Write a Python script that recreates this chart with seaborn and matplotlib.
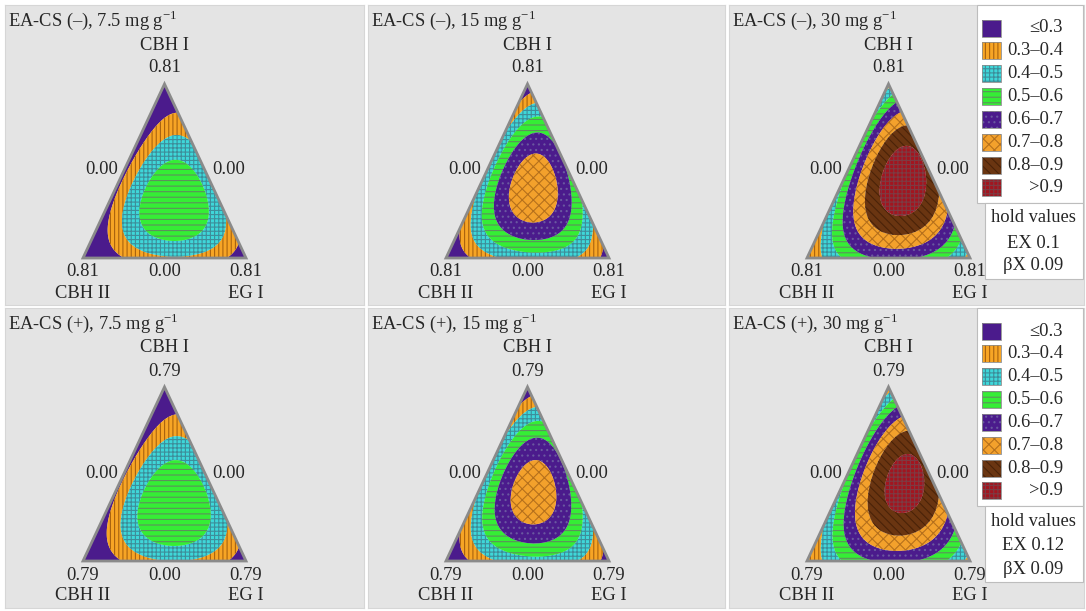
import numpy as np
import matplotlib
matplotlib.use("Agg")
import matplotlib.pyplot as plt
import matplotlib.tri as mtri
from matplotlib.patches import Rectangle, Polygon
import seaborn as sns

# ---- data -------------------------------------------------------------
conditions = ["EA-CS (–)", "EA-CS (+)"]
loadings = ["7.5", "15", "30"]
vertex_max = [0.81, 0.79]          # CBH I / CBH II / EG I range per row
hold_ex = [0.1, 0.12]
hold_bx = [0.09, 0.09]
components = ["CBH I", "CBH II", "EG I"]

# Predicted glucose yield at the {3,3} simplex-lattice points
# order: CBH I, CBH II, EG I vertices; CBH I–CBH II (2/3,1/3),(1/3,2/3);
# CBH I–EG I (2/3,1/3),(1/3,2/3); CBH II–EG I (2/3,1/3),(1/3,2/3); centroid
yield_minus_7_5 = [0.15, 0.10, 0.22, 0.24, 0.26, 0.40, 0.43, 0.34, 0.38, 0.58]
yield_minus_15 = [0.20, 0.18, 0.25, 0.41, 0.38, 0.59, 0.50, 0.40, 0.44, 0.76]
yield_minus_30 = [0.35, 0.30, 0.36, 0.52, 0.45, 0.87, 0.76, 0.57, 0.60, 0.93]
yield_plus_7_5 = [0.15, 0.10, 0.22, 0.25, 0.27, 0.41, 0.44, 0.35, 0.39, 0.59]
yield_plus_15 = [0.20, 0.18, 0.25, 0.41, 0.38, 0.58, 0.50, 0.41, 0.45, 0.75]
yield_plus_30 = [0.33, 0.30, 0.36, 0.51, 0.45, 0.86, 0.76, 0.57, 0.60, 0.905]
panel_yields = [[yield_minus_7_5, yield_minus_15, yield_minus_30],
                [yield_plus_7_5, yield_plus_15, yield_plus_30]]

band_edges = [0.3, 0.4, 0.5, 0.6, 0.7, 0.8, 0.9]
band_labels = ["≤0.3", "0.3–0.4", "0.4–0.5", "0.5–0.6",
               "0.6–0.7", "0.7–0.8", "0.8–0.9", ">0.9"]

# ---- style ------------------------------------------------------------
sns.set_theme(style="white")
plt.rcParams["font.family"] = ["Liberation Serif", "DejaVu Serif"]
plt.rcParams["mathtext.fontset"] = "custom"
plt.rcParams["mathtext.rm"] = "Liberation Serif"
plt.rcParams["hatch.linewidth"] = 0.8

band_colors = sns.color_palette(["#4b1b8c", "#f7a525", "#3fd7d9", "#35ee35",
                                 "#4b1b8c", "#f3a12c", "#6a3511", "#a3151f"])
hatch_colors = ["#4b1b8c", "#a8620f", "#3d8e9a", "#5d8f5d",
                "#6a58a0", "#b5701c", "#4a2308", "#7c3c44"]
hatches = ["", "||||", "++++", "---", "...", "xxx", "\\\\\\\\", "++++"]

FONT = 13.3
PANEL_BG = "#e4e4e4"

# panel boxes in figure pixels (left, top, right, bottom)
col_x = [(5, 364), (368, 725), (729, 1084)]
row_y = [(5, 305), (308, 608)]
FIG_W, FIG_H = 1086, 611

# triangle corners inside each panel (panel pixels, y downward)
APEX = np.array([159.5, 79.0])
LEFT = np.array([78.0, 253.0])
RIGHT = np.array([241.0, 253.0])


def hatched(artist, k):
    """Give a filled artist the hatch colour of band k without stroking edges."""
    artist.set_edgecolor(hatch_colors[k])
    artist.set_linewidth(0)
    return artist


# ---- Scheffé full cubic mixture model ---------------------------------
def basis(x1, x2, x3):
    return np.array([x1, x2, x3, x1 * x2, x1 * x3, x2 * x3,
                     x1 * x2 * (x1 - x2), x1 * x3 * (x1 - x3),
                     x2 * x3 * (x2 - x3), x1 * x2 * x3])

t = 1 / 3
lattice = [(1, 0, 0), (0, 1, 0), (0, 0, 1),
           (2 * t, t, 0), (t, 2 * t, 0),
           (2 * t, 0, t), (t, 0, 2 * t),
           (0, 2 * t, t), (0, t, 2 * t),
           (t, t, t)]
design = np.array([basis(*p) for p in lattice])

n = 120
pts = [(i / n, j / n, (n - i - j) / n) for i in range(n + 1) for j in range(n + 1 - i)]
bary = np.array(pts)
px = bary[:, 0] * APEX[0] + bary[:, 1] * LEFT[0] + bary[:, 2] * RIGHT[0]
py = bary[:, 0] * APEX[1] + bary[:, 1] * LEFT[1] + bary[:, 2] * RIGHT[1]
tri = mtri.Triangulation(px, py)
grid_basis = basis(bary[:, 0], bary[:, 1], bary[:, 2]).T

fig = plt.figure(figsize=(FIG_W / 100, FIG_H / 100), dpi=100)
fig.patch.set_facecolor("white")

for r, cond in enumerate(conditions):
    for c, load in enumerate(loadings):
        x0, x1p = col_x[c]
        y0, y1p = row_y[r]
        W, H = x1p - x0, y1p - y0
        ax = fig.add_axes([x0 / FIG_W, 1 - y1p / FIG_H, W / FIG_W, H / FIG_H])
        ax.set_xlim(0, W)
        ax.set_ylim(H, 0)
        ax.set_facecolor(PANEL_BG)
        for s in ax.spines.values():
            s.set_color("#d6d6d6")
            s.set_linewidth(0.8)
        ax.set_xticks([])
        ax.set_yticks([])

        coef = np.linalg.solve(design, np.array(panel_yields[r][c]))
        z = grid_basis @ coef
        bounds = [min(z.min(), 0.0) - 1] + band_edges + [max(z.max(), 1.0) + 1]
        for k in range(8):
            lo, hi = bounds[k], bounds[k + 1]
            if z.max() < lo or z.min() > hi:
                continue
            cs = ax.tricontourf(tri, z, levels=[lo, hi], colors=[band_colors[k]],
                                hatches=[hatches[k]], antialiased=True)
            hatched(cs, k)

        ax.add_patch(Polygon([APEX, LEFT, RIGHT], closed=True, fill=False,
                             edgecolor="#8a8a8a", linewidth=2.0, joinstyle="miter"))

        vm = f"{vertex_max[r]:.2f}"
        ax.text(3, 15, cond + ", " + load + r" mg g$^{-1}$", fontsize=FONT,
                ha="left", va="center")
        ax.text(APEX[0], 40, components[0], fontsize=FONT, ha="center", va="center")
        ax.text(APEX[0], 63, vm, fontsize=FONT, ha="center", va="center")
        ax.text(113, 165, "0.00", fontsize=FONT, ha="right", va="center")
        ax.text(207, 165, "0.00", fontsize=FONT, ha="left", va="center")
        ax.text(LEFT[0], 267, vm, fontsize=FONT, ha="center", va="center")
        ax.text((LEFT[0] + RIGHT[0]) / 2, 267, "0.00", fontsize=FONT, ha="center", va="center")
        ax.text(RIGHT[0], 267, vm, fontsize=FONT, ha="center", va="center")
        ax.text(LEFT[0], 288, components[1], fontsize=FONT, ha="center", va="center")
        ax.text(RIGHT[0], 288, components[2], fontsize=FONT, ha="center", va="center")

        if c == 2:
            # legend box
            ax.add_patch(Rectangle((248, 0), 106, 198, facecolor="white",
                                   edgecolor="#bdbdbd", linewidth=0.8, zorder=5,
                                   clip_on=False))
            for k, lab in enumerate(band_labels):
                yc = 23 + 22.85 * k
                sw = Rectangle((253, yc - 8.5), 19, 17, facecolor=band_colors[k],
                               hatch=hatches[k], zorder=6)
                ax.add_patch(hatched(sw, k))
                ax.add_patch(Rectangle((253, yc - 8.5), 19, 17, fill=False,
                                       edgecolor="#8c8c8c", linewidth=0.6, zorder=6))
                ax.text(334, yc, lab, fontsize=FONT, ha="right", va="center", zorder=7)
            ax.add_patch(Rectangle((256, 198), 98, 76, facecolor="white",
                                   edgecolor="#bdbdbd", linewidth=0.8, zorder=5,
                                   clip_on=False))
            ax.text(304, 213, "hold values", fontsize=FONT, ha="center", va="center", zorder=7)
            ax.text(304, 238, f"EX {hold_ex[r]:g}", fontsize=FONT, ha="center", va="center", zorder=7)
            ax.text(304, 261, f"βX {hold_bx[r]:g}", fontsize=FONT, ha="center", va="center", zorder=7)

fig.savefig("out.png", dpi=100, facecolor="white")
